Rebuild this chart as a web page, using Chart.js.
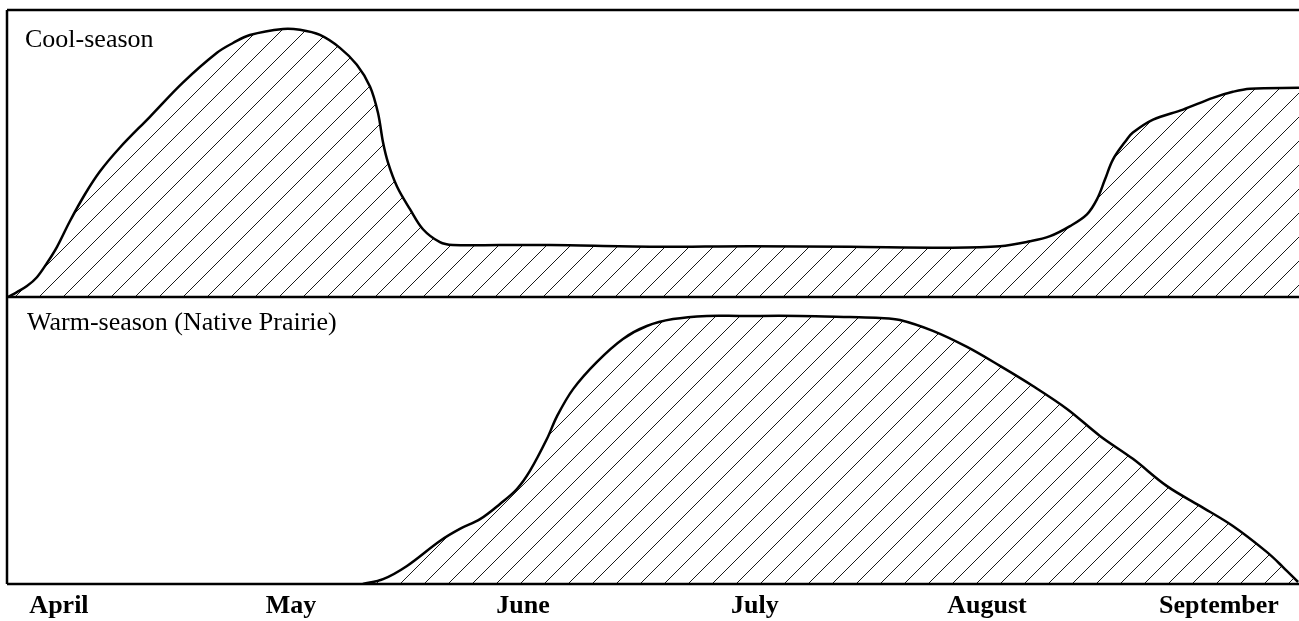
<!DOCTYPE html>
<html>
<head>
<meta charset="utf-8">
<script src="https://cdn.jsdelivr.net/npm/chart.js@4.4.1/dist/chart.umd.min.js"></script>
<style>
  html, body { margin: 0; padding: 0; background: #fff; }
  #wrap { width: 1299px; height: 621px; position: relative; }
</style>
</head>
<body>
<div id="wrap"><canvas id="seasons"></canvas></div>
<script>
// x is in months after the start of April (April = 0), y is relative height (0-100)
var months = ["April", "May", "June", "July", "August", "September"];
var panelTitles = ["Cool-season", "Warm-season (Native Prairie)"];

var coolX = [-0.22, -0.181, -0.138, -0.095, -0.052, -0.009, 0.047, 0.112, 0.177, 0.263, 0.392, 0.534, 0.681, 0.75, 0.823, 0.966, 1.039, 1.125, 1.211, 1.284, 1.341, 1.375, 1.397, 1.418, 1.457, 1.513, 1.569, 1.642, 1.698, 1.901, 2.116, 2.547, 2.978, 3.409, 3.841, 4.056, 4.185, 4.272, 4.358, 4.431, 4.474, 4.509, 4.543, 4.603, 4.629, 4.716, 4.845, 4.974, 5.06, 5.134, 5.345];
var coolY = [0, 1.7, 3.8, 6.9, 11.8, 17.4, 26.4, 35.8, 43.8, 52.1, 62.8, 74.7, 85.1, 88.5, 91.3, 93.4, 93.1, 91.3, 86.8, 80.9, 73.3, 64.2, 53.8, 46.9, 38.5, 30.6, 23.6, 19.1, 18.1, 18.1, 18.1, 17.5, 17.7, 17.5, 17.2, 17.7, 19.4, 21.2, 24.7, 28.8, 34.0, 41.0, 47.9, 54.9, 57.3, 61.8, 65.3, 69.4, 71.5, 72.6, 72.9];

var warmX = [1.31, 1.397, 1.5, 1.642, 1.728, 1.815, 1.901, 1.974, 2.03, 2.103, 2.147, 2.216, 2.319, 2.431, 2.534, 2.647, 2.793, 2.935, 3.194, 3.409, 3.539, 3.625, 3.767, 3.914, 4.056, 4.198, 4.345, 4.487, 4.629, 4.776, 4.918, 5.06, 5.207, 5.276, 5.341];
var warmY = [0, 1.7, 6.3, 15.0, 19.2, 22.6, 27.9, 33.1, 39.4, 50.5, 58.5, 67.9, 77.4, 85.4, 89.9, 92.3, 93.4, 93.4, 93.4, 93.0, 92.7, 92.0, 88.2, 82.6, 76.0, 69.0, 61.0, 51.6, 43.6, 34.1, 27.2, 20.2, 11.1, 5.9, 0.7];

function toPoints(xs, ys) {
  return xs.map(function (x, i) { return { x: x, y: ys[i] }; });
}

// Diagonal hatch pattern
function makeHatch() {
  var size = 24;
  var c = document.createElement("canvas");
  c.width = size;
  c.height = size;
  var g = c.getContext("2d");
  g.strokeStyle = "#000";
  g.lineWidth = 0.9;
  g.beginPath();
  g.moveTo(-2, size + 2); g.lineTo(size + 2, -2);
  g.moveTo(-2, 2); g.lineTo(2, -2);
  g.moveTo(size - 2, size + 2); g.lineTo(size + 2, size - 2);
  g.stroke();
  return g.createPattern(c, "repeat");
}

var hatch = makeHatch();
var serif = "'Liberation Serif', 'Times New Roman', serif";

// Frame lines and panel titles
var framePlugin = {
  id: "frame",
  afterDatasetsDraw: function (chart) {
    var ctx = chart.ctx;
    var a = chart.chartArea;
    var mid = chart.scales.yCool.bottom;
    ctx.save();
    ctx.strokeStyle = "#000";
    ctx.lineWidth = 2.5;
    ctx.beginPath();
    ctx.moveTo(a.left, a.bottom); ctx.lineTo(a.left, a.top);
    ctx.moveTo(a.left, a.top); ctx.lineTo(a.right, a.top);
    ctx.moveTo(a.left, mid); ctx.lineTo(a.right, mid);
    ctx.moveTo(a.left, a.bottom); ctx.lineTo(a.right, a.bottom);
    ctx.stroke();
    ctx.fillStyle = "#000";
    ctx.font = "26px " + serif;
    ctx.textBaseline = "alphabetic";
    ctx.fillText(panelTitles[0], a.left + 18, a.top + 37);
    ctx.fillText(panelTitles[1], a.left + 20, mid + 33);
    ctx.restore();
  }
};

var ctx = document.getElementById("seasons").getContext("2d");
var chart = new Chart(ctx, {
  type: "line",
  data: {
    datasets: [{
      label: panelTitles[0],
      data: toPoints(coolX, coolY),
      yAxisID: "yCool",
      borderColor: "#000",
      borderWidth: 2.5,
      backgroundColor: hatch,
      fill: "origin",
      pointRadius: 0,
      tension: 0.35
    }, {
      label: panelTitles[1],
      data: toPoints(warmX, warmY),
      yAxisID: "yWarm",
      borderColor: "#000",
      borderWidth: 2.5,
      backgroundColor: hatch,
      fill: "origin",
      pointRadius: 0,
      tension: 0.35
    }]
  },
  options: {
    responsive: true,
    maintainAspectRatio: false,
    animation: false,
    layout: { padding: { left: 7, top: 10, right: 0, bottom: -7 } },
    plugins: {
      legend: { display: false },
      tooltip: { enabled: false }
    },
    scales: {
      x: {
        type: "linear",
        min: -0.224,
        max: 5.345,
        afterBuildTicks: function (axis) {
          axis.ticks = months.map(function (m, i) { return { value: i }; });
        },
        ticks: {
          color: "#000",
          padding: 9,
          maxRotation: 0,
          autoSkip: false,
          font: { family: serif, size: 26, weight: "bold", lineHeight: 1 },
          callback: function (value) { return months[value]; }
        },
        grid: { display: false, drawTicks: false },
        border: { display: false }
      },
      // stacked panels: the axis listed later is placed on top
      yWarm: {
        type: "linear",
        display: false,
        min: 0,
        max: 100,
        stack: "panels",
        stackWeight: 1
      },
      yCool: {
        type: "linear",
        display: false,
        min: 0,
        max: 100,
        stack: "panels",
        stackWeight: 1
      }
    }
  },
  plugins: [framePlugin]
});
</script>
</body>
</html>
